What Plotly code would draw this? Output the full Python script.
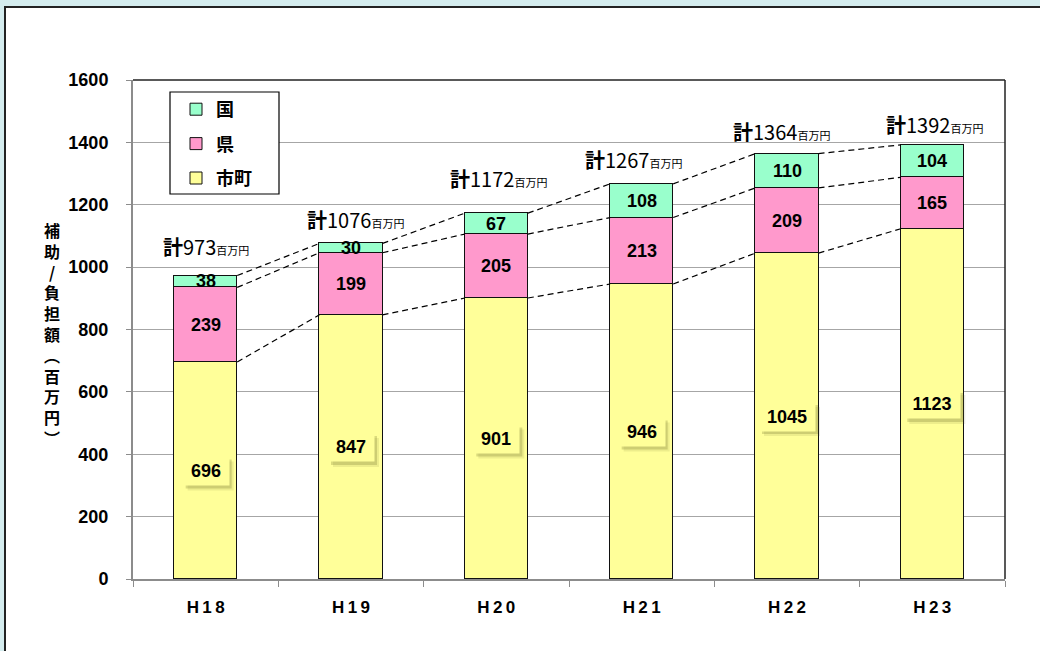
import plotly.graph_objects as go

# ---- data ----
years = ["H18", "H19", "H20", "H21", "H22", "H23"]
machi = [696, 847, 901, 946, 1045, 1123]      # 市町
ken = [239, 199, 205, 213, 209, 165]          # 県
kuni = [38, 30, 67, 108, 110, 104]            # 国
totals = [973, 1076, 1172, 1267, 1364, 1392]  # 計 (labels)
series_names = ["市町", "県", "国"]
y_title = "補助/負担額︵百万円︶"
y_ticks = [0, 200, 400, 600, 800, 1000, 1200, 1400, 1600]

# ---- style ----
colors = ["#FFFF99", "#FF99CC", "#99FFCC"]
legend_ranks = [3, 2, 1]
BAR_W = 0.434
total_xshift = [0, 4, 2, -8, -6, 2]
total_yshift = [29, 24, 35, 24, 22, 20]

W_FIG, H_FIG = 1040, 651
L, R, T, B = 133, 1005, 80, 579


def px(x):
    return (x - L) / (R - L)


def py(y):
    return (B - y) / (B - T)


xs = list(range(len(years)))
fig = go.Figure()

series = [machi, ken, kuni]
for name, vals, col, rk in zip(series_names, series, colors, legend_ranks):
    fig.add_trace(go.Bar(
        x=xs, y=vals, name=name, width=BAR_W,
        marker=dict(color=col, line=dict(color="#111111", width=1)),
        legendgroup=name, legendrank=rk, hoverinfo="skip",
    ))

# cumulative levels
lvl1 = machi
lvl2 = [a + b for a, b in zip(machi, ken)]
lvl3 = [a + b + c for a, b, c in zip(machi, ken, kuni)]

# dashed connectors
for lv in (lvl1, lvl2, lvl3):
    for i in range(len(years) - 1):
        fig.add_trace(go.Scatter(
            x=[xs[i] + BAR_W / 2, xs[i + 1] - BAR_W / 2],
            y=[lv[i], lv[i + 1]], mode="lines",
            line=dict(color="black", width=1.2, dash="6px,4px"),
            showlegend=False, hoverinfo="skip",
        ))

lab_font = dict(family="Liberation Sans, Arial", size=18, color="black", weight="bold")
annotations = []
shapes = []
# 市町 labels with boxed shadow
for i, v in enumerate(machi):
    hw = 23 + 5 * (len(str(v)) - 3)
    for off, alpha in ((5, 0.12), (3, 0.25)):
        shapes.append(dict(type="rect", xref="x", yref="y", xsizemode="pixel",
                           ysizemode="pixel", xanchor=xs[i], yanchor=v / 2,
                           x0=-hw + off, x1=hw + off, y0=-15 - off, y1=14 - off,
                           fillcolor=f"rgba(110,110,40,{alpha})", line=dict(width=0),
                           layer="above"))
    annotations.append(dict(x=xs[i], y=v / 2, xref="x", yref="y", text=str(v),
                            showarrow=False, font=lab_font, width=2 * hw, height=29,
                            bgcolor="#FFFF99", borderpad=0))
for i, v in enumerate(ken):
    annotations.append(dict(x=xs[i], y=lvl1[i] + v / 2, xref="x", yref="y",
                            text=str(v), showarrow=False, font=lab_font))
for i, v in enumerate(kuni):
    annotations.append(dict(x=xs[i], y=lvl2[i] + v / 2, xref="x", yref="y",
                            text=str(v), showarrow=False, font=lab_font))
# totals
for i, t in enumerate(totals):
    annotations.append(dict(
        x=xs[i], y=lvl3[i], xref="x", yref="y", yanchor="middle",
        xshift=total_xshift[i], yshift=total_yshift[i], showarrow=False,
        text=f"<b>計</b>{t}<span style='font-size:11px'>百万円</span>",
        font=dict(family="Noto Sans CJK JP", size=20, color="black")))
# y title, vertical
annotations.append(dict(
    x=px(42), y=py(334), xref="paper", yref="paper", showarrow=False,
    text="<br>".join(list(y_title)),
    font=dict(family="Noto Sans CJK JP", size=16, color="black", weight="bold")))

shapes += [
    # page background strips
    dict(type="rect", xref="paper", yref="paper", x0=px(-5), x1=px(1045),
         y0=py(7), y1=py(-5), fillcolor="#D4ECEE", line=dict(width=0), layer="below"),
    dict(type="rect", xref="paper", yref="paper", x0=px(-5), x1=px(4),
         y0=py(660), y1=py(-5), fillcolor="#D4ECEE", line=dict(width=0), layer="below"),
    # outer frame
    dict(type="rect", xref="paper", yref="paper", x0=px(5), x1=px(1050),
         y0=py(665), y1=py(7), line=dict(color="#222222", width=2), layer="below"),
    # plot area top/right border
    dict(type="line", xref="paper", yref="paper", x0=0, x1=1, y0=1, y1=1,
         line=dict(color="#222222", width=1.5)),
    dict(type="line", xref="paper", yref="paper", x0=1, x1=1, y0=0, y1=1,
         line=dict(color="#222222", width=1.5)),
    # legend box
    dict(type="rect", xref="paper", yref="paper", x0=px(170), x1=px(279),
         y0=py(194), y1=py(92), fillcolor="white",
         line=dict(color="black", width=1.2), layer="above"),
]

fig.update_layout(
    width=W_FIG, height=H_FIG,
    margin=dict(l=L, r=W_FIG - R, t=T, b=H_FIG - B),
    paper_bgcolor="white", plot_bgcolor="white",
    barmode="stack", bargap=0,
    showlegend=True,
    legend=dict(x=px(176), y=py(91), xanchor="left", yanchor="top",
                bgcolor="rgba(0,0,0,0)", borderwidth=0,
                traceorder="grouped", tracegroupgap=8,
                font=dict(family="Noto Sans CJK JP", size=18, color="black", weight="bold")),
    xaxis=dict(range=[-0.5, len(years) - 0.5], tickmode="array", tickvals=xs,
               ticktext=["\u2009".join(y) for y in years], ticks="",
               showline=True, linecolor="#8c8c8c", linewidth=2,
               showgrid=False, zeroline=False, ticklabelstandoff=12,
               minor=dict(tickmode="array", tickvals=[x - 0.5 for x in xs] + [len(years) - 0.5],
                          ticks="outside", ticklen=6, tickcolor="#8c8c8c", tickwidth=1),
               tickfont=dict(family="Liberation Sans, Arial",
                             size=17, color="black", weight="bold")),
    yaxis=dict(range=[0, 1600], tickmode="array", tickvals=y_ticks,
               ticks="outside", ticklen=5, tickcolor="#8c8c8c",
               showline=True, linecolor="#8c8c8c", linewidth=2,
               showgrid=True, gridcolor="#a6a6a6", gridwidth=1, zeroline=False,
               ticklabelstandoff=14,
               tickfont=dict(family="Liberation Sans, Arial", size=18, color="black", weight="bold")),
    annotations=annotations,
    shapes=shapes,
)

fig.write_html(
    "out.html",
    config={"displayModeBar": False},
    post_script="document.body.style.margin='0';document.body.style.padding='0';"
                "document.documentElement.style.overflow='hidden';",
)
